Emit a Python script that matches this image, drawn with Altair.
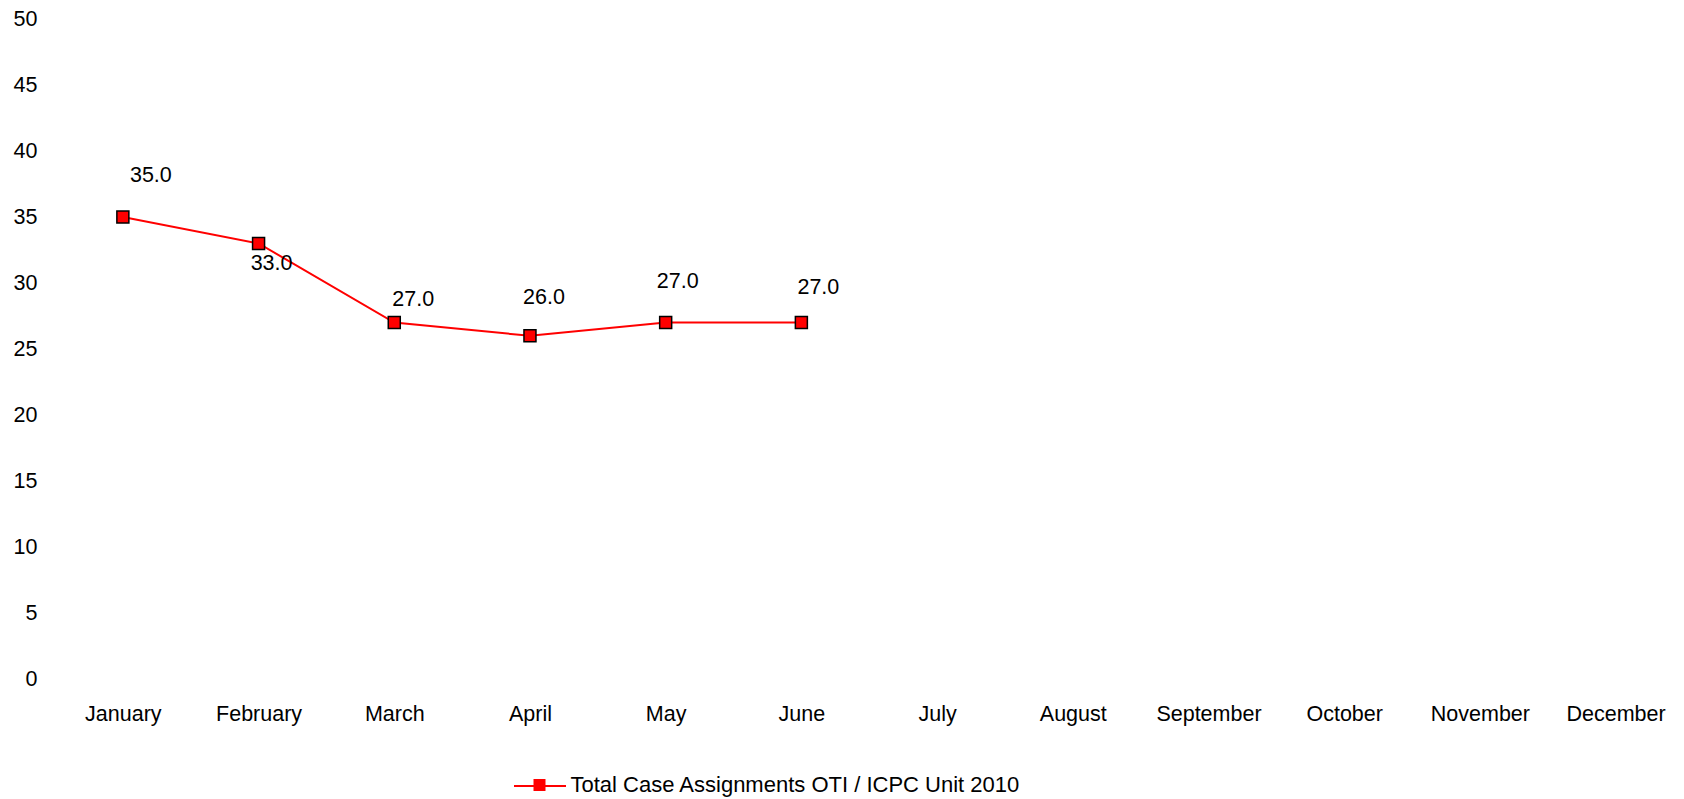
import altair as alt
import pandas as pd

months = ["January", "February", "March", "April", "May", "June",
          "July", "August", "September", "October", "November", "December"]
values = [35.0, 33.0, 27.0, 26.0, 27.0, 27.0]
series_name = "Total Case Assignments OTI / ICPC Unit 2010"
y_ticks = [0, 5, 10, 15, 20, 25, 30, 35, 40, 45, 50]

# label offsets (pixels) for the value labels, as placed in the reference
label_dx = [28, 13, 19, 14, 12, 17]
label_dy = [-41, 21, -23, -38, -41, -35]

df = pd.DataFrame({
    "month": months[:len(values)],
    "value": values,
    "s1": [series_name] * len(values),
    "s2": [series_name] * len(values),
})

FS = 21.5

x_enc = alt.X("month:O", sort=months,
              scale=alt.Scale(type="point", domain=months, padding=0.4727, align=0.529),
              axis=alt.Axis(title=None, labelAngle=0, domain=False, ticks=False, tickSize=0,
                            labelPadding=24, labelFontSize=FS, labelColor="black", grid=False))
y_enc = alt.Y("value:Q",
              scale=alt.Scale(domain=[0, 50], nice=False, zero=True),
              axis=alt.Axis(title=None, values=y_ticks, domain=False, ticks=False, tickSize=0,
                            labelPadding=18, grid=False, labelFontSize=FS, labelColor="black"))

base = alt.Chart(df)

line = base.mark_line(strokeWidth=2).encode(
    x=x_enc, y=y_enc,
    color=alt.Color("s1:N", scale=alt.Scale(range=["#ff0000"]),
                    legend=alt.Legend(title=None, orient="none", legendX=458, legendY=740,
                                      symbolType="stroke", symbolSize=2704, symbolStrokeWidth=2,
                                      labelExpr="''", labelOpacity=0, padding=0, labelFontSize=FS)),
)

points = base.mark_point(shape="square", filled=True, fill="#ff0000", stroke="black",
                         strokeWidth=1.5, size=144, opacity=1).encode(
    x=x_enc, y=y_enc,
    shape=alt.Shape("s2:N", scale=alt.Scale(range=["square"]),
                    legend=alt.Legend(title=None, orient="none", legendX=473.5, legendY=755,
                                      symbolType="square", symbolSize=144,
                                      symbolFillColor="#ff0000", symbolStrokeColor="black",
                                      symbolStrokeWidth=1.5, symbolOpacity=1,
                                      labelFontSize=22, labelOffset=20, labelColor="black",
                                      labelLimit=0, padding=0)),
)

labels = []
for i, m in enumerate(months[:len(values)]):
    labels.append(
        base.transform_filter(alt.datum.month == m).mark_text(
            dx=label_dx[i], dy=label_dy[i], fontSize=FS, align="center",
            baseline="middle", color="black"
        ).encode(x=x_enc, y=y_enc, text=alt.Text("value:Q", format=".1f"))
    )

chart = alt.layer(line, points, *labels).resolve_legend(color="independent", shape="independent").properties(
    width=1621, height=660,
    padding={"left": 47, "top": 11, "right": 0, "bottom": 120},
    autosize=alt.AutoSizeParams(type="none"),
).configure(font="Liberation Sans").configure_view(stroke=None)

chart.save("out.html", embed_options={"renderer": "svg", "actions": False})
